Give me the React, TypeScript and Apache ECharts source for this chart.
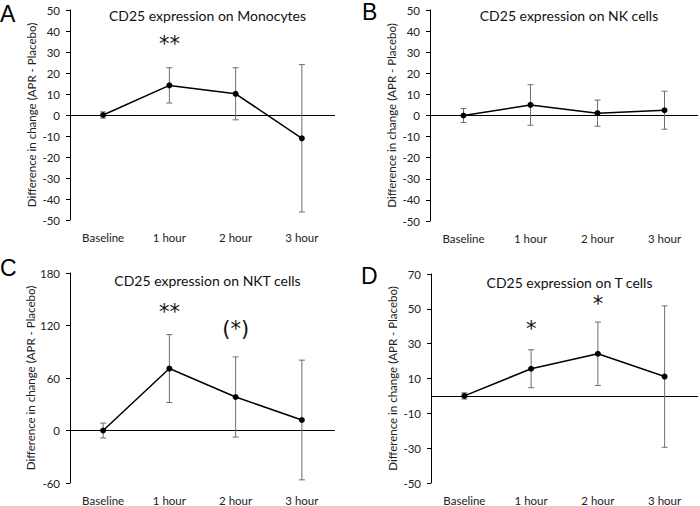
import React, { useEffect, useRef } from "react";
import * as echarts from "echarts";

const categories = ["Baseline", "1 hour", "2 hour", "3 hour"];

const monoMean = [0, 14.1, 10.1, -11.1];
const monoErr = [1.5, 8.4, 12.4, 35.1];
const nkMean = [0, 5.0, 1.1, 2.5];
const nkErr = [3.3, 9.6, 6.2, 9.0];
const nktMean = [0, 70.8, 38.3, 12.0];
const nktErr = [8.5, 38.8, 45.8, 68.4];
const tMean = [0, 15.6, 24.2, 11.1];
const tErr = [1.8, 10.9, 18.2, 40.6];

const panelTitles = [
  "CD25 expression on Monocytes",
  "CD25 expression on NK cells",
  "CD25 expression on NKT cells",
  "CD25 expression on T cells",
];
const panelLetters = ["A", "B", "C", "D"];
const yName = "Difference in change (APR - Placebo)";

// significance annotations: [categoryIndex, yValue, text]
const monoStars: [number, number, string][] = [[1, 33.8, "**"]];
const nkStars: [number, number, string][] = [];
const nktStars: [number, number, string][] = [
  [1, 135, "**"],
  [2, 115.5, "(*)"],
];
const tStars: [number, number, string][] = [
  [1, 38.5, "*"],
  [2, 52.7, "*"],
];

const yMins = [-50, -50, -60, -50];
const yMaxs = [50, 50, 180, 70];
const yIntervals = [10, 10, 60, 20];

const FONT = "Lato";

export default function App() {
  const ref = useRef<HTMLDivElement>(null);
  useEffect(() => {
    if (!ref.current) return;
    const chart = echarts.init(ref.current, undefined, { renderer: "svg" });
    const grids = [
      { left: 70, top: 10, width: 265, height: 210 },
      { left: 430, top: 10, width: 268, height: 211 },
      { left: 70, top: 273, width: 265, height: 212 },
      { left: 431, top: 274, width: 267, height: 211 },
    ];
    const means = [monoMean, nkMean, nktMean, tMean];
    const errs = [monoErr, nkErr, nktErr, tErr];
    const stars = [monoStars, nkStars, nktStars, tStars];
    const titleY = [13, 13, 278, 280];
    const letterPos = [
      [0, 14],
      [362, 12],
      [0, 268],
      [361, 276],
    ];

    const xAxis: any[] = [];
    const yAxis: any[] = [];
    const series: any[] = [];
    const titles: any[] = [];
    const graphics: any[] = [];

    grids.forEach((g, i) => {
      xAxis.push({
        type: "category",
        gridIndex: i,
        data: categories,
        boundaryGap: true,
        axisLine: { show: false, onZero: false },
        axisTick: { show: false },
        splitLine: { show: false },
        axisLabel: {
          margin: 11,
          fontFamily: FONT,
          fontSize: 11.5,
          color: "#222",
        },
      });
      yAxis.push({
        type: "value",
        gridIndex: i,
        min: yMins[i],
        max: yMaxs[i],
        interval: yIntervals[i],
        name: yName,
        nameLocation: "middle",
        nameGap: 33,
        nameTextStyle: { fontFamily: FONT, fontSize: 11.5, color: "#222" },
        axisLine: { show: true, lineStyle: { color: "#000", width: 1 } },
        axisTick: { show: true, length: 4, lineStyle: { color: "#000" } },
        splitLine: { show: false },
        axisLabel: {
          margin: 10,
          fontFamily: FONT,
          fontSize: 11.5,
          color: "#222",
        },
      });

      const mean = means[i];
      const err = errs[i];

      series.push({
        type: "custom",
        xAxisIndex: i,
        yAxisIndex: i,
        silent: true,
        data: mean.map((m, k) => [k, m - err[k], m + err[k]]),
        encode: { x: 0, y: [1, 2] },
        renderItem: (params: any, api: any) => {
          const x = api.value(0);
          const lo = api.value(1);
          const hi = api.value(2);
          const top = api.coord([x, hi]);
          const bot = api.coord([x, lo]);
          const w = 3;
          const st = { stroke: "#6e6e6e", lineWidth: 1 };
          return {
            type: "group",
            children: [
              { type: "line", shape: { x1: top[0], y1: top[1], x2: bot[0], y2: bot[1] }, style: st },
              { type: "line", shape: { x1: top[0] - w, y1: top[1], x2: top[0] + w, y2: top[1] }, style: st },
              { type: "line", shape: { x1: bot[0] - w, y1: bot[1], x2: bot[0] + w, y2: bot[1] }, style: st },
            ],
          };
        },
        z: 2,
      });

      series.push({
        type: "line",
        xAxisIndex: i,
        yAxisIndex: i,
        data: mean,
        symbol: "circle",
        symbolSize: 6,
        lineStyle: { color: "#000", width: 1.5 },
        itemStyle: { color: "#000" },
        z: 3,
        markLine: {
          silent: true,
          symbol: "none",
          label: { show: false },
          lineStyle: { color: "#000", width: 1.2, type: "solid" },
          data: [{ yAxis: 0 }],
          z: 1,
        },
      });

      series.push({
        type: "scatter",
        xAxisIndex: i,
        yAxisIndex: i,
        data: stars[i],
        symbolSize: 1,
        itemStyle: { color: "#fff", opacity: 0 },
        label: {
          show: true,
          position: "inside",
          formatter: (p: any) => p.data[2],
          fontFamily: "DejaVu Sans",
          fontSize: 21,
          color: "#111",
          textBorderWidth: 0,
          textBorderColor: "transparent",
          opacity: 1,
        },
        silent: true,
      });

      titles.push({
        text: panelTitles[i],
        left: g.left + g.width / 2,
        top: titleY[i] - 10,
        textAlign: "center",
        textStyle: {
          fontFamily: FONT,
          fontSize: 14,
          fontWeight: "normal",
          color: "#111",
        },
      });

      graphics.push({
        type: "text",
        x: letterPos[i][0],
        y: letterPos[i][1],
        style: {
          text: panelLetters[i],
          font: "23px 'Liberation Sans'",
          fill: "#000",
          textVerticalAlign: "middle",
          textAlign: "left",
        },
      });
    });

    chart.setOption({
      animation: false,
      backgroundColor: "#fff",
      title: titles,
      grid: grids,
      xAxis,
      yAxis,
      series,
      graphic: graphics,
    });
    return () => chart.dispose();
  }, []);
  return (
    <div
      ref={ref}
      style={{ position: "absolute", left: 0, top: 0, width: 700, height: 506 }}
    />
  );
}
